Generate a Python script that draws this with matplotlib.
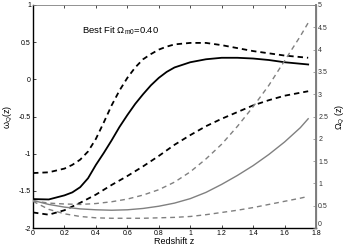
import numpy as np
import matplotlib
matplotlib.use("Agg")
import matplotlib.pyplot as plt

plt.rcParams['font.family'] = ['Liberation Sans', 'DejaVu Sans']
plt.rcParams['mathtext.fontset'] = 'custom'
plt.rcParams['mathtext.rm'] = 'Liberation Sans'
plt.rcParams['mathtext.it'] = 'Liberation Sans:italic'
plt.rcParams['mathtext.default'] = 'regular'

# %% data
z = [0, 0.1, 0.2, 0.3, 0.4, 0.5, 0.6, 0.7, 0.8, 0.9, 1.0,
     1.1, 1.2, 1.3, 1.4, 1.5, 1.6, 1.7, 1.75]
# finer sampling for the steep black curves
z_fine = [0, 0.1, 0.2, 0.25, 0.3, 0.35, 0.4, 0.45, 0.5, 0.55, 0.6, 0.65, 0.7, 0.75,
          0.8, 0.85, 0.9, 1.0, 1.1, 1.2, 1.3, 1.4, 1.5, 1.6, 1.7, 1.75]

# w_Q(z), left axis
w_best = [-1.61, -1.615, -1.56, -1.52, -1.45, -1.33, -1.15, -0.99, -0.82, -0.64, -0.48,
          -0.33, -0.20, -0.08, 0.02, 0.10, 0.16, 0.23, 0.27, 0.29, 0.29, 0.28, 0.26,
          0.23, 0.21, 0.20]
w_upper = [-1.26, -1.25, -1.20, -1.15, -1.08, -0.97, -0.80, -0.58, -0.35, -0.15, 0.02,
           0.16, 0.27, 0.34, 0.40, 0.44, 0.47, 0.49, 0.49, 0.46, 0.42, 0.38, 0.35,
           0.32, 0.30, 0.29]
w_lower = [-1.79, -1.82, -1.76, -1.66, -1.55, -1.42, -1.30, -1.17, -1.03, -0.88, -0.75,
           -0.63, -0.53, -0.44, -0.35, -0.28, -0.22, -0.18, -0.16]

# Omega_Q(z), right axis
om_best = [0.62, 0.53, 0.47, 0.43, 0.41, 0.40, 0.41, 0.44, 0.49, 0.56, 0.66,
           0.80, 0.98, 1.18, 1.40, 1.65, 1.93, 2.25, 2.45]
om_upper = [0.61, 0.56, 0.54, 0.53, 0.55, 0.59, 0.65, 0.74, 0.86, 1.03, 1.26,
            1.55, 1.88, 2.28, 2.72, 3.20, 3.75, 4.30, 4.60]
om_lower = [0.60, 0.42, 0.32, 0.26, 0.23, 0.22, 0.22, 0.22, 0.23, 0.24, 0.26,
            0.30, 0.35, 0.40, 0.46, 0.53, 0.60, 0.67, 0.71]

x_ticks = [0, 0.2, 0.4, 0.6, 0.8, 1, 1.2, 1.4, 1.6, 1.8]
w_ticks = [-2, -1.5, -1, -0.5, 0, 0.5, 1]
om_ticks = [0, 0.5, 1, 1.5, 2, 2.5, 3, 3.5, 4, 4.5, 5]

# %%
grey = '#808080'
fig = plt.figure(figsize=(3.46, 2.49), dpi=100)
ax = fig.add_axes([0.0954, 0.084, 0.818, 0.896])
ax2 = ax.twinx()

ax.plot(z_fine, w_best, color='black', lw=1.3)
ax.plot(z_fine, w_upper, color='black', lw=1.3, dashes=(3, 2.2))
ax.plot(z, w_lower, color='black', lw=1.3, dashes=(3, 2.2))

ax2.plot(z, om_best, color=grey, lw=1.0)
ax2.plot(z, om_upper, color=grey, lw=1.0, dashes=(3.5, 2.8))
ax2.plot(z, om_lower, color=grey, lw=1.0, dashes=(3.5, 2.8))

ax.set_xlim(0, 1.8)
ax.set_ylim(-2, 1)
ax2.set_ylim(0, 5)
ax.set_xticks(x_ticks)
ax.set_xticklabels([f'{t:g}' for t in x_ticks])
ax.set_yticks(w_ticks)
ax.set_yticklabels([f'{t:g}' for t in w_ticks])
ax2.set_yticks(om_ticks)
ax2.set_yticklabels([f'{t:g}' for t in om_ticks])
# lift the right-axis "0" a touch so it doesn't sit on the x "1.8"
ax2.get_yticklabels()[0].set_va('bottom')

ax.tick_params(direction='in', length=2.5, width=0.5, labelsize=5, pad=1.5, top=True)
ax.tick_params(axis='y', right=False)
ax2.tick_params(direction='in', length=2.5, width=0.5, labelsize=5, pad=1.5,
                color=grey, labelcolor='#333333')
for s in ['left', 'bottom']:
    ax.spines[s].set_linewidth(1.0)
ax.spines['top'].set_linewidth(0.6)
ax.spines['top'].set_color(grey)
ax2.spines['right'].set_color(grey)
ax2.spines['right'].set_linewidth(1.4)
for s in ['left', 'bottom', 'top']:
    ax2.spines[s].set_visible(False)

ax.set_xlabel('Redshift z', fontsize=6.5, labelpad=0)
ax.set_ylabel(r'$\omega_Q(z)$', fontsize=6.5, labelpad=3)
ax2.set_ylabel(r'$\Omega_Q\ (z)$', fontsize=6.5, labelpad=4)

ax.text(0.31, 0.65, r'Best Fit $\Omega_{m0}$=0.40', fontsize=6.8, va='center')

fig.savefig('out.png', dpi=100)
